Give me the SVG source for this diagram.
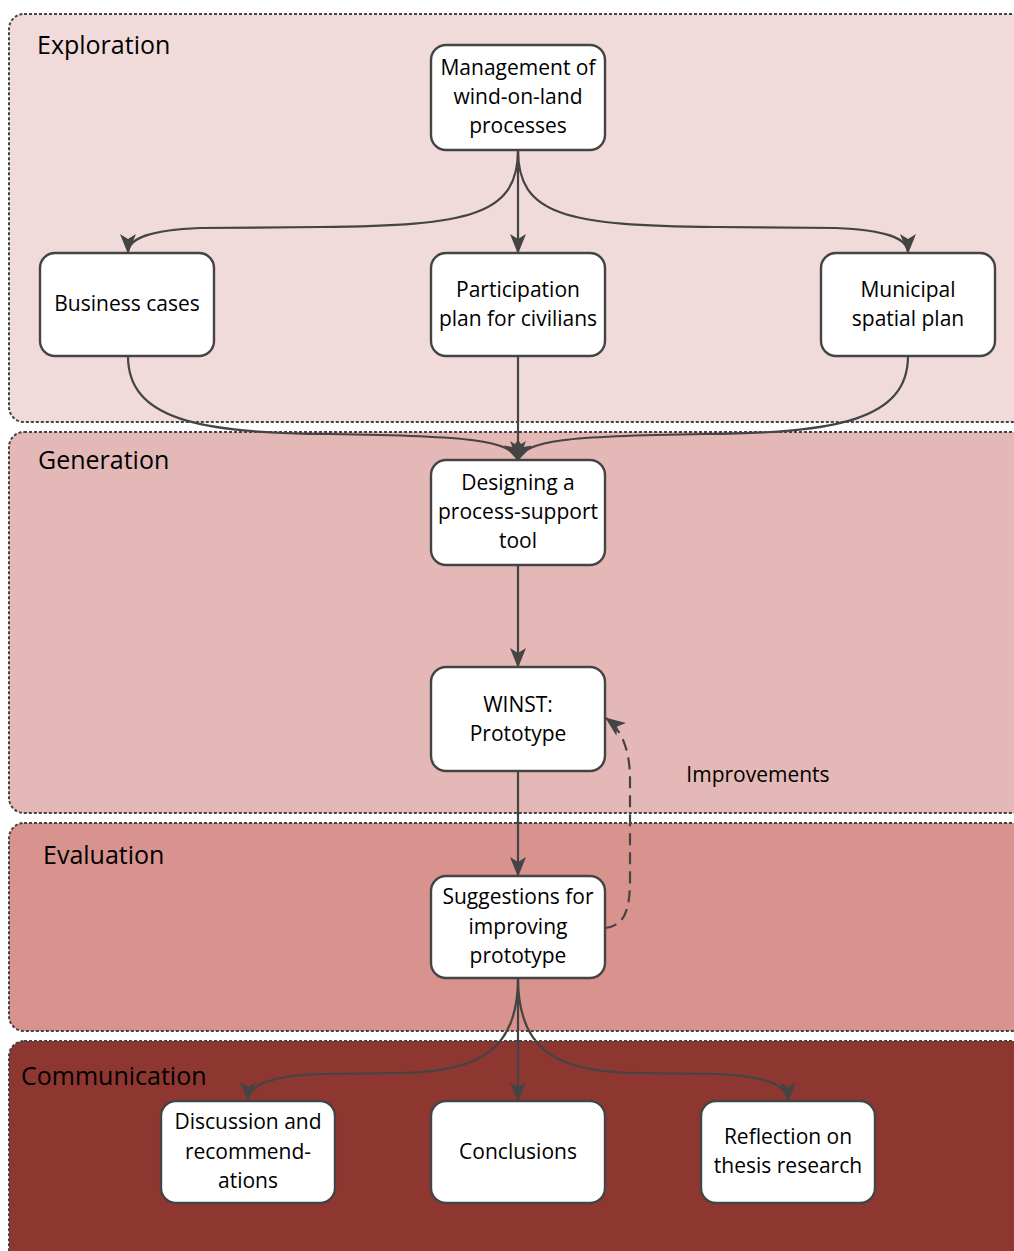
<svg xmlns="http://www.w3.org/2000/svg" width="1014" height="1251" viewBox="0 0 1014 1251">
  <style>
    .band { stroke: #444; stroke-width: 2; stroke-dasharray: 3 2; }
    .phase { font-family: "Open Sans", "Liberation Sans", sans-serif; font-size: 25px; fill: #000; }
    .box { fill: #fff; stroke: #444; stroke-width: 2.4; }
    .lbl { font-family: "Open Sans", "Liberation Sans", sans-serif; font-size: 21px; fill: #000; text-anchor: middle; }
    .wire { fill: none; stroke: #444; stroke-width: 2.2; }
    .dash { stroke-dasharray: 12 7; }
  </style>
  <defs>
    <marker id="arrow" viewBox="0 0 20 16" refX="19" refY="8" markerWidth="20" markerHeight="16" markerUnits="userSpaceOnUse" orient="auto">
      <path d="M0,0 L20,8 L0,16 L5,8 z" fill="#444"/>
    </marker>
  </defs>
  <rect width="1014" height="1251" fill="#fff"/>

  <!-- phase bands -->
  <g id="band-exploration">
    <rect class="band" x="9" y="14" width="1030" height="408" rx="15" fill="#F0DBDA"/>
    <text class="phase" x="37" y="54">Exploration</text>
  </g>
  <g id="band-generation">
    <rect class="band" x="9" y="432" width="1030" height="381" rx="15" fill="#E4B8B6"/>
    <text class="phase" x="38" y="469">Generation</text>
  </g>
  <g id="band-evaluation">
    <rect class="band" x="9" y="823" width="1030" height="208" rx="15" fill="#D8938F"/>
    <text class="phase" x="43" y="864">Evaluation</text>
  </g>
  <g id="band-communication">
    <rect class="band" x="9" y="1041" width="1030" height="230" rx="15" fill="#8E3731"/>
    <text class="phase" x="21" y="1085">Communication</text>
  </g>

  <!-- connectors -->
  <g id="connectors">
    <path class="wire" marker-end="url(#arrow)" d="M518,150 C518,215 470,226 320,227 L200,228 C150,230 128,238 128,253"/>
    <path class="wire" marker-end="url(#arrow)" d="M518,150 L518,253"/>
    <path class="wire" marker-end="url(#arrow)" d="M518,150 C518,215 566,226 716,227 L836,228 C886,230 908,238 908,253"/>
    <path class="wire" marker-end="url(#arrow)" d="M128,356 C128,420 200,433 330,434 C470,436 510,440 518,460"/>
    <path class="wire" marker-end="url(#arrow)" d="M518,356 L518,460"/>
    <path class="wire" marker-end="url(#arrow)" d="M908,356 C908,420 836,433 706,434 C566,436 526,440 518,460"/>
    <path class="wire" marker-end="url(#arrow)" d="M518,565 L518,667"/>
    <path class="wire" marker-end="url(#arrow)" d="M518,771 L518,876"/>
    <path class="wire dash" marker-end="url(#arrow)" d="M605,928 C622,926 630,915 630,880 L630,780 C630,750 622,730 606,718"/>
    <path class="wire" marker-end="url(#arrow)" d="M518,978 C518,1050 480,1072 400,1073 L320,1074 C270,1076 248,1085 248,1101"/>
    <path class="wire" marker-end="url(#arrow)" d="M518,978 L518,1101"/>
    <path class="wire" marker-end="url(#arrow)" d="M518,978 C518,1050 556,1072 636,1073 L716,1074 C766,1076 788,1085 788,1101"/>
    <text class="lbl" x="758" y="782">Improvements</text>
  </g>

  <!-- process steps -->
  <g id="node-management">
    <rect class="box" x="431" y="45" width="174" height="105" rx="15"/>
    <text class="lbl" x="518" y="75">Management of</text>
    <text class="lbl" x="518" y="104">wind-on-land</text>
    <text class="lbl" x="518" y="133">processes</text>
  </g>
  <g id="node-business">
    <rect class="box" x="40" y="253" width="174" height="103" rx="15"/>
    <text class="lbl" x="127" y="311">Business cases</text>
  </g>
  <g id="node-participation">
    <rect class="box" x="431" y="253" width="174" height="103" rx="15"/>
    <text class="lbl" x="518" y="297">Participation</text>
    <text class="lbl" x="518" y="326">plan for civilians</text>
  </g>
  <g id="node-municipal">
    <rect class="box" x="821" y="253" width="174" height="103" rx="15"/>
    <text class="lbl" x="908" y="297">Municipal</text>
    <text class="lbl" x="908" y="326">spatial plan</text>
  </g>
  <g id="node-designing">
    <rect class="box" x="431" y="460" width="174" height="105" rx="15"/>
    <text class="lbl" x="518" y="490">Designing a</text>
    <text class="lbl" x="518" y="519">process-support</text>
    <text class="lbl" x="518" y="548">tool</text>
  </g>
  <g id="node-winst">
    <rect class="box" x="431" y="667" width="174" height="104" rx="15"/>
    <text class="lbl" x="518" y="712">WINST:</text>
    <text class="lbl" x="518" y="741">Prototype</text>
  </g>
  <g id="node-suggestions">
    <rect class="box" x="431" y="876" width="174" height="102" rx="15"/>
    <text class="lbl" x="518" y="904">Suggestions for</text>
    <text class="lbl" x="518" y="934">improving</text>
    <text class="lbl" x="518" y="963">prototype</text>
  </g>
  <g id="node-discussion">
    <rect class="box" x="161" y="1101" width="174" height="102" rx="15"/>
    <text class="lbl" x="248" y="1129">Discussion and</text>
    <text class="lbl" x="248" y="1159">recommend-</text>
    <text class="lbl" x="248" y="1188">ations</text>
  </g>
  <g id="node-conclusions">
    <rect class="box" x="431" y="1101" width="174" height="102" rx="15"/>
    <text class="lbl" x="518" y="1159">Conclusions</text>
  </g>
  <g id="node-reflection">
    <rect class="box" x="701" y="1101" width="174" height="102" rx="15"/>
    <text class="lbl" x="788" y="1144">Reflection on</text>
    <text class="lbl" x="788" y="1173">thesis research</text>
  </g>
</svg>
